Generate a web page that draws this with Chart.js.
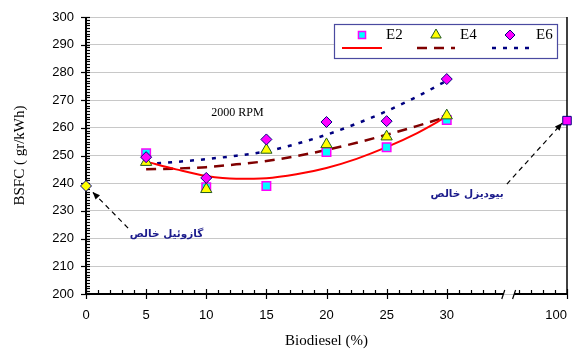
<!DOCTYPE html>
<html>
<head>
<meta charset="utf-8">
<script src="https://cdn.jsdelivr.net/npm/chart.js@4.4.1/dist/chart.umd.min.js"></script>
<style>
  html, body { margin: 0; padding: 0; background: #fff; }
  canvas { display: block; }
</style>
</head>
<body>
<canvas id="bsfc" width="576" height="352"></canvas>
<script>
  // Blend percentages where the three engine tests were measured
  const blends = [5, 10, 15, 20, 25, 30];
  const e2Values = [250.8, 238.5, 239.0, 251.3, 253.0, 262.8];
  const e4Values = [247.6, 237.8, 252.0, 254.0, 256.8, 264.4];
  const e6Values = [249.4, 241.9, 255.8, 262.1, 262.4, 277.6];

  // Fitted trend curves
  const fitX = [5, 7.5, 10, 12.5, 15, 17.5, 20, 22.5, 25, 27.5, 30];
  const fitE2 = [247.8, 245.0, 242.6, 241.6, 241.8, 243.2, 245.5, 248.8, 253.0, 258.0, 264.0];
  const fitE4 = [245.0, 245.3, 245.8, 246.8, 248.0, 249.8, 252.0, 254.6, 257.5, 260.6, 264.0];
  const fitE6 = [247.0, 247.7, 248.7, 249.9, 251.5, 254.2, 257.5, 261.5, 266.0, 271.2, 277.0];

  // Pure fuels: gasoline at 0 %, biodiesel at 100 % (drawn after the axis break)
  const pureGasoline = 239.0;
  const pureBiodiesel = 262.6;

  // x axis is broken: 100 % sits at slot 40 of the linear scale
  const SLOT_100 = 40;
  const xTickValues = [0, 5, 10, 15, 20, 25, 30, SLOT_100];
  const xTickLabels = ['0', '5', '10', '15', '20', '25', '30', '100'];
  const xMinorTicks = [1, 2, 3, 4, 6, 7, 8, 9, 11, 12, 13, 14, 16, 17, 18, 19, 21, 22, 23, 24,
                       26, 27, 28, 29, 31, 32, 33, 34, 36, 37, 38, 39];
  const breakFrom = 34.7, breakTo = 35.6;

  const pts = (xs, ys) => xs.map((v, i) => ({ x: v, y: ys[i] }));

  const NAVY = '#000080';
  const TEXT_BLUE = '#1c1c8c';

  const datasets = [
    { label: 'E6', data: pts(blends, e6Values), showLine: false, pointStyle: 'rectRot',
      pointRadius: 5.5, backgroundColor: '#ff00ff', borderColor: NAVY, pointBorderWidth: 1 },
    { label: 'E4', data: pts(blends, e4Values), showLine: false, pointStyle: 'triangle',
      pointRadius: 6.5, backgroundColor: '#ffff00', borderColor: '#1f5a1f', pointBorderWidth: 1 },
    { label: 'E2', data: pts(blends, e2Values), showLine: false, pointStyle: 'rect',
      pointRadius: 6, backgroundColor: '#00ffff', borderColor: '#ff00ff', pointBorderWidth: 1.5 },
    { label: 'gasoline', data: [{ x: 0, y: pureGasoline }], showLine: false, pointStyle: 'rectRot',
      pointRadius: 5.5, backgroundColor: '#ffff00', borderColor: NAVY, pointBorderWidth: 1 },
    { label: 'biodiesel', data: [{ x: SLOT_100, y: pureBiodiesel }], showLine: false, pointStyle: 'rect',
      pointRadius: 6, backgroundColor: '#ff00ff', borderColor: NAVY, pointBorderWidth: 1 },
    { label: 'fit E2', data: pts(fitX, fitE2), showLine: true, borderColor: '#ff0000', borderWidth: 2,
      pointRadius: 0, cubicInterpolationMode: 'monotone' },
    { label: 'fit E4', data: pts(fitX, fitE4), showLine: true, borderColor: '#800000', borderWidth: 2.5,
      borderDash: [10, 7], pointRadius: 0, cubicInterpolationMode: 'monotone' },
    { label: 'fit E6', data: pts(fitX, fitE6), showLine: true, borderColor: NAVY, borderWidth: 2.5,
      borderDash: [4, 7], pointRadius: 0, cubicInterpolationMode: 'monotone' },
  ];
  datasets.forEach(d => { d.clip = false; });

  function arrow(ctx, x0, y0, x1, y1) {
    ctx.beginPath();
    ctx.setLineDash([5, 4]);
    ctx.moveTo(x0, y0);
    ctx.lineTo(x1, y1);
    ctx.stroke();
    ctx.setLineDash([]);
    const ang = Math.atan2(y1 - y0, x1 - x0);
    ctx.beginPath();
    ctx.moveTo(x1, y1);
    ctx.lineTo(x1 - 8 * Math.cos(ang - 0.4), y1 - 8 * Math.sin(ang - 0.4));
    ctx.lineTo(x1 - 8 * Math.cos(ang + 0.4), y1 - 8 * Math.sin(ang + 0.4));
    ctx.closePath();
    ctx.fill();
  }

  // Axes with the break, minor ticks, annotations and the two-row legend
  const decor = {
    id: 'decor',
    beforeDatasetsDraw(chart) {
      const { ctx, chartArea: a, scales: { x, y } } = chart;
      ctx.save();
      ctx.strokeStyle = '#000';
      // right frame
      ctx.lineWidth = 1.5;
      ctx.beginPath();
      ctx.moveTo(a.right, a.top);
      ctx.lineTo(a.right, a.bottom);
      ctx.stroke();

      // y axis line and ticks
      ctx.lineWidth = 2;
      ctx.beginPath();
      ctx.moveTo(a.left, a.top);
      ctx.lineTo(a.left, a.bottom);
      ctx.stroke();
      ctx.lineWidth = 1.2;
      for (let v = 200; v <= 300; v++) {
        const py = Math.round(y.getPixelForValue(v)) + 0.5;
        ctx.beginPath();
        if (v % 10 === 0) { ctx.moveTo(a.left - 5, py); ctx.lineTo(a.left + 4, py); }
        else { ctx.moveTo(a.left, py); ctx.lineTo(a.left + 4, py); }
        ctx.stroke();
      }

      // x axis line, broken
      const by = a.bottom;
      ctx.lineWidth = 2;
      ctx.beginPath();
      ctx.moveTo(x.getPixelForValue(0), by);
      ctx.lineTo(x.getPixelForValue(breakFrom), by);
      ctx.moveTo(x.getPixelForValue(breakTo), by);
      ctx.lineTo(x.getPixelForValue(SLOT_100), by);
      ctx.stroke();
      ctx.lineWidth = 1.2;
      [breakFrom, breakTo].forEach(v => {
        const px = x.getPixelForValue(v);
        ctx.beginPath();
        ctx.moveTo(px - 1.5, by + 5);
        ctx.lineTo(px + 1.5, by - 4);
        ctx.stroke();
      });
      xTickValues.forEach(v => {
        const px = Math.round(x.getPixelForValue(v)) + 0.5;
        ctx.beginPath();
        ctx.moveTo(px, by - 5);
        ctx.lineTo(px, by + 5);
        ctx.stroke();
      });
      xMinorTicks.forEach(v => {
        const px = Math.round(x.getPixelForValue(v)) + 0.5;
        ctx.beginPath();
        ctx.moveTo(px, by - 4);
        ctx.lineTo(px, by);
        ctx.stroke();
      });
      ctx.restore();
    },
    afterDraw(chart) {
      const { ctx, scales: { x, y } } = chart;
      ctx.save();

      // annotations
      ctx.fillStyle = '#000';
      ctx.font = '12px "Liberation Serif", "Times New Roman", serif';
      ctx.textAlign = 'center';
      ctx.textBaseline = 'middle';
      ctx.fillText('2000 RPM', x.getPixelForValue(12.6), y.getPixelForValue(265.3));

      ctx.fillStyle = TEXT_BLUE;
      ctx.font = 'bold 10.5px "DejaVu Sans", sans-serif';
      ctx.fillText('گازوئیل خالص', x.getPixelForValue(6.7), y.getPixelForValue(221.7));
      ctx.fillText('بیودیزل خالص', x.getPixelForValue(31.7), y.getPixelForValue(236.1));

      ctx.strokeStyle = '#000';
      ctx.fillStyle = '#000';
      ctx.lineWidth = 1.2;
      arrow(ctx, x.getPixelForValue(3.5), y.getPixelForValue(223.8),
                 x.getPixelForValue(0.55), y.getPixelForValue(236.8));
      arrow(ctx, x.getPixelForValue(35.0), y.getPixelForValue(239.7),
                 x.getPixelForValue(39.6), y.getPixelForValue(261.7));

      // legend box
      const L = { left: 334, top: 24, w: 223, h: 34 };
      ctx.fillStyle = '#fff';
      ctx.fillRect(L.left, L.top, L.w, L.h);
      ctx.strokeStyle = '#4a4aa0';
      ctx.lineWidth = 1.2;
      ctx.strokeRect(L.left + 0.5, L.top + 0.5, L.w, L.h);

      const rows = [
        { marker: datasets[2], line: datasets[5], mx: 362, tx: 386, l0: 342, l1: 382 },
        { marker: datasets[1], line: datasets[6], mx: 436, tx: 460, l0: 417, l1: 455 },
        { marker: datasets[0], line: datasets[7], mx: 510, tx: 536, l0: 492, l1: 531 },
      ];
      ctx.font = '15px "Liberation Serif", "Times New Roman", serif';
      ctx.textAlign = 'left';
      rows.forEach(r => {
        ctx.fillStyle = r.marker.backgroundColor;
        ctx.strokeStyle = r.marker.borderColor;
        ctx.lineWidth = r.marker.pointBorderWidth;
        Chart.helpers.drawPoint(ctx, {
          pointStyle: r.marker.pointStyle,
          radius: r.marker.pointStyle === 'triangle' ? 6 : 5,
          rotation: 0, borderWidth: r.marker.pointBorderWidth
        }, r.mx, 35);
        ctx.fillStyle = '#000';
        ctx.fillText(r.marker.label, r.tx, 35);
        ctx.strokeStyle = r.line.borderColor;
        ctx.lineWidth = r.line.borderWidth;
        ctx.setLineDash(r.line.borderDash || []);
        ctx.beginPath();
        ctx.moveTo(r.l0, 48);
        ctx.lineTo(r.l1, 48);
        ctx.stroke();
        ctx.setLineDash([]);
      });

      ctx.restore();
    }
  };

  new Chart(document.getElementById('bsfc'), {
    type: 'scatter',
    data: { datasets },
    options: {
      responsive: false,
      animation: false,
      devicePixelRatio: 1,
      layout: { padding: { top: 17, right: 9, left: 0, bottom: 0 } },
      plugins: { legend: { display: false }, tooltip: { enabled: false } },
      scales: {
        x: {
          type: 'linear', min: 0, max: SLOT_100,
          afterBuildTicks: s => { s.ticks = xTickValues.map(v => ({ value: v })); },
          afterFit: s => { s.height = 58; s.paddingLeft = 0; s.paddingRight = 0; },
          ticks: {
            autoSkip: false, maxRotation: 0, padding: 14, color: '#000',
            font: { family: '"Liberation Sans", Arial, sans-serif', size: 13 },
            callback: v => {
              const i = xTickValues.indexOf(v);
              if (i < 0) return '';
              return v === SLOT_100 ? xTickLabels[i] + '\u2007\u2007\u2007' : xTickLabels[i];
            }
          },
          grid: { display: false, drawTicks: false },
          border: { display: false },
          title: {
            display: true, text: 'Biodiesel (%)', color: '#000',
            font: { family: '"Liberation Serif", "Times New Roman", serif', size: 15 },
            padding: { top: 0, bottom: 2 }
          }
        },
        y: {
          min: 200, max: 300,
          afterFit: s => { s.width = 86; s.paddingTop = 0; s.paddingBottom = 0; },
          ticks: {
            stepSize: 10, padding: 12, color: '#000',
            font: { family: '"Liberation Sans", Arial, sans-serif', size: 13 }
          },
          grid: { color: '#c8c8c8', lineWidth: 1, drawTicks: false },
          border: { display: false },
          title: {
            display: true, text: 'BSFC ( gr/kWh)', color: '#000',
            font: { family: '"Liberation Serif", "Times New Roman", serif', size: 15 },
            padding: { top: 11, bottom: 0 }
          }
        }
      }
    },
    plugins: [decor]
  });
</script>
</body>
</html>
